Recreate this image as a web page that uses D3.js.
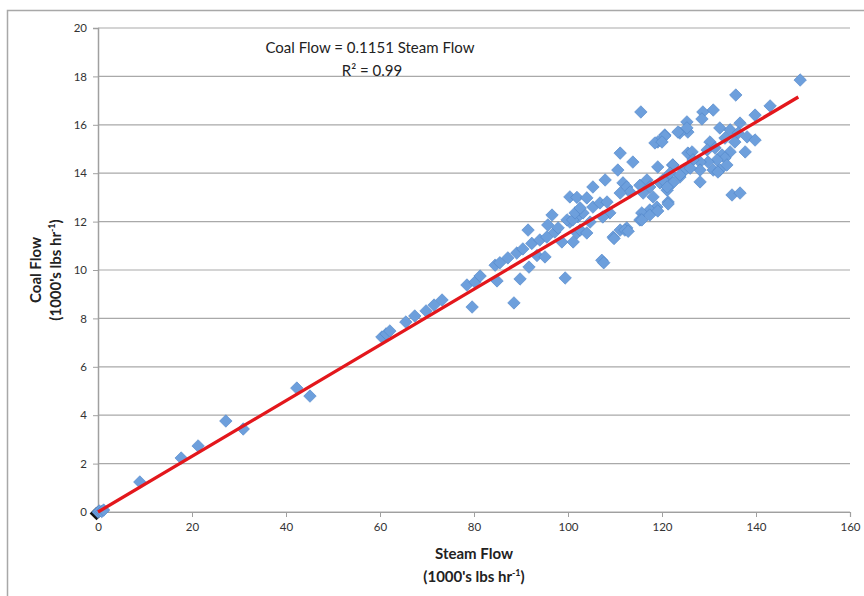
<!DOCTYPE html>
<html>
<head>
<meta charset="utf-8">
<script src="https://cdn.jsdelivr.net/npm/d3@7"></script>
<style>
  body { margin: 0; background: #fff; }
  text { font-family: Lato, "Open Sans", sans-serif; }
</style>
</head>
<body>
<div id="chart"></div>
<script>
// Steam flow (1000's lbs/hr) vs coal flow (1000's lbs/hr)
var steamFlow = [
  0, 0.3, 0.8, 1.2, 8.9, 17.7, 21.3, 27.2, 30.9, 42.3, 45.1,
  60.4, 61.3, 62.1, 65.5, 67.4, 69.8, 71.5, 73.2, 78.5, 80.2, 81.3, 79.6,
  84.9, 84.5, 85.5, 87.2, 89.8, 88.5, 89.1, 90.4, 91.7, 91.5, 92.3, 93.4, 94.0, 95.1, 95.5, 95.7,
  96.6, 97.2, 97.9, 98.7, 99.4, 100.4, 101.9, 100.4, 101.1, 101.9, 102.1,
  125.5, 123.8, 120.6, 119.1, 118.5, 111.1, 110.6, 113.8, 105.3, 107.9, 104.0, 99.8, 101.0,
  103.2, 105.3, 106.8, 108.3, 111.7, 112.5, 113.2, 111.1, 115.3, 116.8, 119.1, 117.4, 119.6,
  121.1, 122.3, 123.8, 124.9, 125.5, 116.0, 118.1, 121.1, 118.9, 117.4, 115.7, 115.3, 112.5,
  111.1, 109.6, 108.9, 107.4, 102.6, 104.0, 104.7, 101.5, 102.6,
  149.4, 135.7, 143.0, 139.8, 130.9, 128.7, 128.5, 125.3, 125.3, 123.4, 120.6, 120.0, 132.3,
  134.5, 136.6, 136.2, 130.2, 129.6, 126.4, 131.3, 133.4, 135.5, 138.1, 139.8, 137.7, 134.5,
  132.8, 133.4, 131.7, 129.8, 128.1, 126.6, 130.9, 132.3, 133.8, 128.1, 126.0, 122.3, 121.7,
  123.8, 120.2, 122.3, 121.1, 128.1, 131.9, 134.9, 136.6, 121.3, 115.5,
  107.2, 107.6, 109.8, 112.1, 112.8, 115.7, 117.4, 119.1, 121.3
];
var coalFlow = [
  0, 0.04, 0.02, 0.08, 1.24, 2.23, 2.73, 3.76, 3.43, 5.12, 4.79,
  7.23, 7.36, 7.48, 7.85, 8.1, 8.31, 8.55, 8.76, 9.38, 9.5, 9.75, 8.47,
  9.55, 10.2, 10.3, 10.5, 9.63, 8.64, 10.7, 10.87, 10.12, 11.65, 11.1, 10.6, 11.24, 10.54, 11.36, 11.86,
  12.27, 11.57, 11.74, 11.16, 9.67, 13.02, 13.0, 11.98, 11.16, 11.53, 12.2,
  15.7, 15.66, 15.58, 15.29, 15.25, 14.83, 14.13, 14.46, 13.43, 13.72, 12.98, 12.07, 12.07,
  12.36, 12.6, 12.77, 12.81, 13.6, 13.43, 13.22, 13.18, 13.5, 13.72, 14.26, 13.43, 13.6,
  13.84, 14.34, 13.84, 14.13, 14.83, 13.18, 13.02, 13.3, 12.6, 12.48, 12.36, 12.07, 11.74,
  11.65, 11.36, 12.36, 12.19, 11.65, 11.53, 11.98, 12.36, 12.56,
  17.85, 17.23, 16.78, 16.4, 16.61, 16.53, 16.24, 16.12, 15.87, 15.7, 15.54, 15.29, 15.87,
  15.79, 16.07, 15.66, 15.29, 14.96, 14.88, 15.04, 15.45, 15.29, 15.5, 15.37, 14.88, 14.88,
  14.75, 14.63, 14.55, 14.46, 14.46, 14.55, 14.13, 14.13, 14.34, 14.13, 14.21, 14.34, 14.0,
  13.93, 13.72, 13.6, 13.43, 13.64, 14.05, 13.1, 13.18, 12.81, 16.53,
  10.4, 10.3, 11.3, 11.65, 11.6, 12.07, 12.27, 12.44, 12.73
];

// Trendline through origin
var slope = 0.1151;
var trendEnd = 149;

var xTicks = [0, 20, 40, 60, 80, 100, 120, 140, 160];
var yTicks = [0, 2, 4, 6, 8, 10, 12, 14, 16, 18, 20];

var svgWidth = 864;
var svgHeight = 596;

var svg = d3.select("#chart")
  .append("svg")
  .attr("width", svgWidth)
  .attr("height", svgHeight);

// outer frame of the chart object
svg.append("rect")
  .attr("x", 7.5).attr("y", 10.5)
  .attr("width", 900).attr("height", 700)
  .attr("fill", "none")
  .attr("stroke", "#a8a8a8")
  .attr("stroke-width", 1.5);

var x = d3.scaleLinear().domain([0, 160]).range([98, 850]);
var y = d3.scaleLinear().domain([0, 20]).range([512, 28]);

// horizontal gridlines
svg.append("g")
  .selectAll("line")
  .data(yTicks)
  .enter()
  .append("line")
  .attr("x1", x(0)).attr("x2", x(160))
  .attr("y1", d => y(d)).attr("y2", d => y(d))
  .attr("stroke", "#a9a9a9")
  .attr("stroke-width", 1.2);

// y axis
var leftAxis = d3.axisLeft(y).tickValues(yTicks).tickSize(5).tickPadding(6).tickFormat(d3.format("d"));
var yAxisG = svg.append("g")
  .attr("transform", `translate(${x(0)},0)`)
  .call(leftAxis);
yAxisG.select(".domain").attr("stroke", "#a0a0a0").attr("stroke-width", 1.5);
yAxisG.selectAll(".tick line").attr("stroke", "#a0a0a0");
yAxisG.selectAll(".tick text")
  .attr("font-family", "Lato, sans-serif")
  .attr("font-size", 11.5)
  .attr("fill", "#333");

// x axis
var bottomAxis = d3.axisBottom(x).tickValues(xTicks).tickSize(5).tickPadding(6).tickFormat(d3.format("d"));
var xAxisG = svg.append("g")
  .attr("transform", `translate(0,${y(0)})`)
  .call(bottomAxis);
xAxisG.select(".domain").attr("stroke", "#a0a0a0").attr("stroke-width", 1.2);
xAxisG.selectAll(".tick line").attr("stroke", "#a0a0a0");
xAxisG.selectAll(".tick text")
  .attr("font-family", "Lato, sans-serif")
  .attr("font-size", 11.5)
  .attr("fill", "#333");

// points
var points = steamFlow.map((s, i) => ({ steam: s, coal: coalFlow[i] }));
var diamond = d3.symbol().type(d3.symbolDiamond2).size(100);

// black marker hidden at the origin
svg.append("path")
  .attr("d", d3.symbol().type(d3.symbolDiamond2).size(120))
  .attr("transform", `translate(${x(0) - 1.5},${y(0) + 1.5})`)
  .attr("fill", "#111");

svg.append("g")
  .selectAll("path")
  .data(points)
  .enter()
  .append("path")
  .attr("d", diamond)
  .attr("transform", d => `translate(${x(d.steam)},${y(d.coal)})`)
  .attr("fill", "#6d9fdc")
  .attr("stroke", "#4f84c8")
  .attr("stroke-width", 0.6);

// red trendline
svg.append("line")
  .attr("x1", x(0)).attr("y1", y(0))
  .attr("x2", x(trendEnd)).attr("y2", y(slope * trendEnd))
  .attr("stroke", "#e3171c")
  .attr("stroke-width", 3.3);

// equation
svg.append("text")
  .attr("x", 370).attr("y", 53)
  .attr("text-anchor", "middle")
  .attr("font-size", 15)
  .attr("fill", "#222")
  .text("Coal Flow = " + slope + " Steam Flow");
svg.append("text")
  .attr("x", 372).attr("y", 76)
  .attr("text-anchor", "middle")
  .attr("font-size", 15)
  .attr("fill", "#222")
  .text("R² = 0.99");

// axis titles
function unitLabel(g) {
  g.append("tspan").text("(1000's lbs hr");
  g.append("tspan").attr("font-size", 9).attr("dy", -6).text("-1");
  g.append("tspan").attr("dy", 6).text(")");
}

svg.append("text")
  .attr("x", x(80)).attr("y", 559)
  .attr("text-anchor", "middle")
  .attr("font-size", 15).attr("font-weight", "bold")
  .attr("fill", "#222")
  .text("Steam Flow");
svg.append("text")
  .attr("x", x(80)).attr("y", 582)
  .attr("text-anchor", "middle")
  .attr("font-size", 15).attr("font-weight", "bold")
  .attr("fill", "#222")
  .call(unitLabel);

svg.append("text")
  .attr("transform", "translate(41,270) rotate(-90)")
  .attr("text-anchor", "middle")
  .attr("font-size", 15).attr("font-weight", "bold")
  .attr("fill", "#222")
  .text("Coal Flow");
svg.append("text")
  .attr("transform", "translate(61,270) rotate(-90)")
  .attr("text-anchor", "middle")
  .attr("font-size", 15).attr("font-weight", "bold")
  .attr("fill", "#222")
  .call(unitLabel);
</script>
</body>
</html>
